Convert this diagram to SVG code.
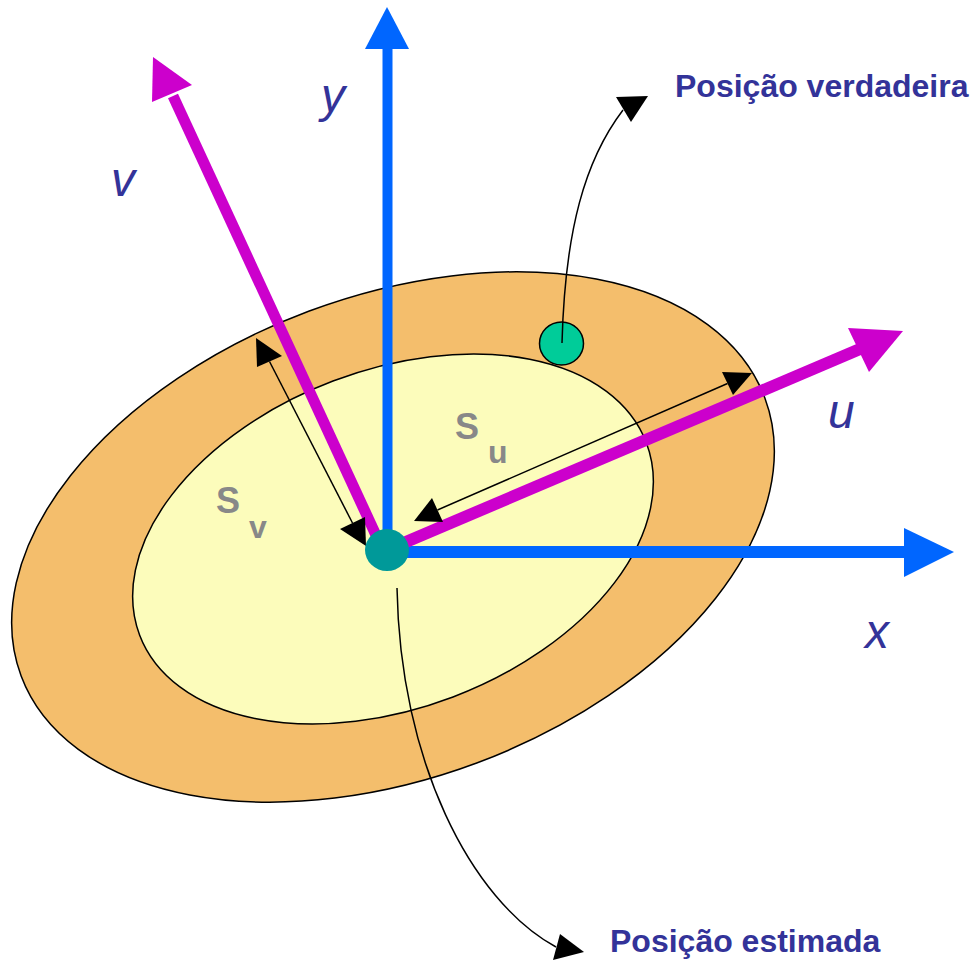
<svg xmlns="http://www.w3.org/2000/svg" width="976" height="966" viewBox="0 0 976 966">
  <style>
    .axlbl { font-family: "Liberation Sans", Arial, sans-serif; font-style: italic; font-size: 48px; fill: #333399; }
    .cap { font-family: "Liberation Sans", Arial, sans-serif; font-weight: bold; font-size: 32px; fill: #333399; }
    .sl { font-family: "Liberation Sans", Arial, sans-serif; font-weight: bold; fill: #888888; }
    .thin { fill: none; stroke: #000; stroke-width: 1.5; }
    .head { fill: #000; }
    .blue { stroke: #0066FF; fill: none; }
    .mag { stroke: #CC00CC; fill: none; }
  </style>
  <rect width="976" height="966" fill="#FFFFFF"/>

  <g id="outer-region">
    <ellipse cx="393" cy="537" rx="397" ry="241" transform="rotate(-20.5 393 537)" fill="#F4BE6C" stroke="#000" stroke-width="1.5"/>
  </g>
  <g id="inner-region">
    <ellipse cx="393" cy="539" rx="271" ry="169" transform="rotate(-20.8 393 539)" fill="#FCFCBB" stroke="#000" stroke-width="1.5"/>
  </g>
  <g id="true-position">
    <ellipse cx="561.5" cy="343.5" rx="22" ry="21.5" fill="#00CC99" stroke="#000" stroke-width="1.5"/>
  </g>

  <g id="connectors">
    <path class="thin" d="M562,343 C565,230 585,160 623,110"/>
    <polygon class="head" points="648,96 616,97 631,122"/>
    <path class="thin" d="M397,588 C400,760 470,900 556,947"/>
    <polygon class="head" points="584,952 560,934 553,960"/>
    <line class="blue" x1="387.5" y1="552" x2="387.5" y2="47" stroke-width="10"/>
    <polygon fill="#0066FF" points="387,7 365,49 409,49"/>
    <line class="blue" x1="387" y1="552" x2="906" y2="552" stroke-width="12"/>
    <polygon fill="#0066FF" points="954,552 904,528 904,577"/>
    <line class="mag" x1="381" y1="546" x2="173" y2="96" stroke-width="11"/>
    <polygon fill="#CC00CC" points="153,57 152,102 192,85"/>
    <line class="mag" x1="387" y1="550" x2="860" y2="349" stroke-width="12"/>
    <polygon fill="#CC00CC" points="903,331 848,328 869,372"/>
    <line class="thin" x1="437.5" y1="510" x2="727.5" y2="383.5"/>
    <polygon class="head" points="752,373 722,372 733,395"/>
    <polygon class="head" points="414,521 432,498 443,522"/>
    <line class="thin" x1="269.5" y1="361.5" x2="352.5" y2="523"/>
    <polygon class="head" points="256,338 282,356 257,367"/>
    <polygon class="head" points="366,546 340,529 365,517"/>
  </g>

  <g id="estimated-position">
    <ellipse cx="387" cy="550" rx="22" ry="21" fill="#009999"/>
  </g>

  <g id="labels">
    <text class="axlbl" x="321" y="112">y</text>
    <text class="axlbl" x="111" y="196">v</text>
    <text class="axlbl" x="828" y="428">u</text>
    <text class="axlbl" x="865" y="648">x</text>
    <text class="sl" x="216" y="513" font-size="36">S</text>
    <text class="sl" x="249" y="538" font-size="32">v</text>
    <text class="sl" x="455" y="439" font-size="36">S</text>
    <text class="sl" x="488" y="463" font-size="32">u</text>
    <text class="cap" x="675" y="97">Posição verdadeira</text>
    <text class="cap" x="610" y="952">Posição estimada</text>
  </g>
</svg>
